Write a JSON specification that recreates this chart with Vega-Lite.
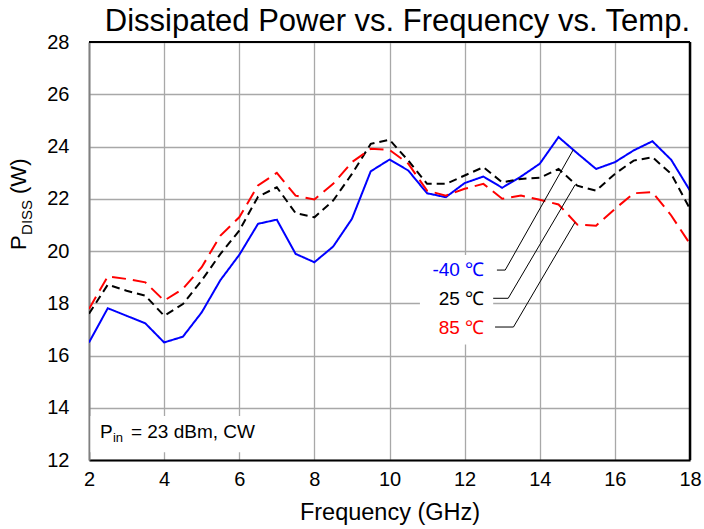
{
  "$schema": "https://vega.github.io/schema/vega-lite/v6.json",
  "width": 601,
  "height": 418,
  "autosize": {"type": "none"},
  "padding": {"left": 89, "top": 42, "right": 14, "bottom": 69},
  "background": "white",
  "config": {
    "view": {"stroke": null},
    "font": "Liberation Sans",
    "text": {"font": "Liberation Sans"},
    "axis": {
      "titleFontSize": 23.5, "titleFontWeight": "normal", "titleColor": "black", "titleFont": "Liberation Sans",
      "labelFontSize": 20, "labelColor": "black", "labelFont": "Liberation Sans", "labelFlush": false,
      "ticks": false, "grid": true, "gridColor": "#a8a8a8", "gridWidth": 1.3, "domainWidth": 2
    },
    "axisX": {"domainColor": "black", "labelPadding": 9, "titlePadding": 11},
    "axisY": {"domainColor": "#808080", "labelPadding": 20}
  },
  "title": {
    "text": "Dissipated Power vs. Frequency vs. Temp.",
    "fontSize": 31,
    "font": "Liberation Sans",
    "fontWeight": "normal",
    "color": "black",
    "anchor": "end",
    "frame": "group",
    "offset": 4,
    "dy": 10
  },
  "datasets": {
    "main": [
      {"f": 2, "p": 16.5, "t": "-40 ℃"}, {"f": 2.5, "p": 17.81, "t": "-40 ℃"}, {"f": 3, "p": 17.52, "t": "-40 ℃"}, {"f": 3.5, "p": 17.23, "t": "-40 ℃"}, {"f": 4, "p": 16.5, "t": "-40 ℃"}, {"f": 4.5, "p": 16.72, "t": "-40 ℃"}, {"f": 5, "p": 17.65, "t": "-40 ℃"}, {"f": 5.5, "p": 18.89, "t": "-40 ℃"}, {"f": 6, "p": 19.85, "t": "-40 ℃"}, {"f": 6.5, "p": 21.04, "t": "-40 ℃"}, {"f": 7, "p": 21.2, "t": "-40 ℃"}, {"f": 7.5, "p": 19.89, "t": "-40 ℃"}, {"f": 8, "p": 19.57, "t": "-40 ℃"}, {"f": 8.5, "p": 20.17, "t": "-40 ℃"}, {"f": 9, "p": 21.23, "t": "-40 ℃"}, {"f": 9.5, "p": 23.05, "t": "-40 ℃"}, {"f": 10, "p": 23.5, "t": "-40 ℃"}, {"f": 10.5, "p": 23.08, "t": "-40 ℃"}, {"f": 11, "p": 22.21, "t": "-40 ℃"}, {"f": 11.5, "p": 22.06, "t": "-40 ℃"}, {"f": 12, "p": 22.6, "t": "-40 ℃"}, {"f": 12.5, "p": 22.85, "t": "-40 ℃"}, {"f": 13, "p": 22.42, "t": "-40 ℃"}, {"f": 13.5, "p": 22.85, "t": "-40 ℃"}, {"f": 14, "p": 23.34, "t": "-40 ℃"}, {"f": 14.5, "p": 24.36, "t": "-40 ℃"}, {"f": 15, "p": 23.74, "t": "-40 ℃"}, {"f": 15.5, "p": 23.14, "t": "-40 ℃"}, {"f": 16, "p": 23.4, "t": "-40 ℃"}, {"f": 16.5, "p": 23.85, "t": "-40 ℃"}, {"f": 17, "p": 24.2, "t": "-40 ℃"}, {"f": 17.5, "p": 23.49, "t": "-40 ℃"}, {"f": 18, "p": 22.31, "t": "-40 ℃"},
      {"f": 2, "p": 17.6, "t": "25 ℃"}, {"f": 2.5, "p": 18.71, "t": "25 ℃"}, {"f": 3, "p": 18.48, "t": "25 ℃"}, {"f": 3.5, "p": 18.29, "t": "25 ℃"}, {"f": 4, "p": 17.52, "t": "25 ℃"}, {"f": 4.5, "p": 17.97, "t": "25 ℃"}, {"f": 5, "p": 18.87, "t": "25 ℃"}, {"f": 5.5, "p": 19.89, "t": "25 ℃"}, {"f": 6, "p": 20.78, "t": "25 ℃"}, {"f": 6.5, "p": 22.08, "t": "25 ℃"}, {"f": 7, "p": 22.44, "t": "25 ℃"}, {"f": 7.5, "p": 21.45, "t": "25 ℃"}, {"f": 8, "p": 21.29, "t": "25 ℃"}, {"f": 8.5, "p": 21.93, "t": "25 ℃"}, {"f": 9, "p": 22.95, "t": "25 ℃"}, {"f": 9.5, "p": 24.1, "t": "25 ℃"}, {"f": 10, "p": 24.26, "t": "25 ℃"}, {"f": 10.5, "p": 23.46, "t": "25 ℃"}, {"f": 11, "p": 22.57, "t": "25 ℃"}, {"f": 11.5, "p": 22.57, "t": "25 ℃"}, {"f": 12, "p": 22.89, "t": "25 ℃"}, {"f": 12.5, "p": 23.21, "t": "25 ℃"}, {"f": 13, "p": 22.63, "t": "25 ℃"}, {"f": 13.5, "p": 22.76, "t": "25 ℃"}, {"f": 14, "p": 22.8, "t": "25 ℃"}, {"f": 14.5, "p": 23.14, "t": "25 ℃"}, {"f": 15, "p": 22.5, "t": "25 ℃"}, {"f": 15.5, "p": 22.31, "t": "25 ℃"}, {"f": 16, "p": 22.95, "t": "25 ℃"}, {"f": 16.5, "p": 23.46, "t": "25 ℃"}, {"f": 17, "p": 23.59, "t": "25 ℃"}, {"f": 17.5, "p": 22.95, "t": "25 ℃"}, {"f": 18, "p": 21.61, "t": "25 ℃"},
      {"f": 2, "p": 17.78, "t": "85 ℃"}, {"f": 2.5, "p": 19.03, "t": "85 ℃"}, {"f": 3, "p": 18.93, "t": "85 ℃"}, {"f": 3.5, "p": 18.8, "t": "85 ℃"}, {"f": 4, "p": 18.1, "t": "85 ℃"}, {"f": 4.5, "p": 18.55, "t": "85 ℃"}, {"f": 5, "p": 19.38, "t": "85 ℃"}, {"f": 5.5, "p": 20.59, "t": "85 ℃"}, {"f": 6, "p": 21.29, "t": "85 ℃"}, {"f": 6.5, "p": 22.51, "t": "85 ℃"}, {"f": 7, "p": 22.99, "t": "85 ℃"}, {"f": 7.5, "p": 22.12, "t": "85 ℃"}, {"f": 8, "p": 21.97, "t": "85 ℃"}, {"f": 8.5, "p": 22.57, "t": "85 ℃"}, {"f": 9, "p": 23.4, "t": "85 ℃"}, {"f": 9.5, "p": 23.91, "t": "85 ℃"}, {"f": 10, "p": 23.87, "t": "85 ℃"}, {"f": 10.5, "p": 23.34, "t": "85 ℃"}, {"f": 11, "p": 22.31, "t": "85 ℃"}, {"f": 11.5, "p": 22.12, "t": "85 ℃"}, {"f": 12, "p": 22.38, "t": "85 ℃"}, {"f": 12.5, "p": 22.57, "t": "85 ℃"}, {"f": 13, "p": 22.0, "t": "85 ℃"}, {"f": 13.5, "p": 22.12, "t": "85 ℃"}, {"f": 14, "p": 21.96, "t": "85 ℃"}, {"f": 14.5, "p": 21.78, "t": "85 ℃"}, {"f": 15, "p": 21.01, "t": "85 ℃"}, {"f": 15.5, "p": 20.97, "t": "85 ℃"}, {"f": 16, "p": 21.61, "t": "85 ℃"}, {"f": 16.5, "p": 22.21, "t": "85 ℃"}, {"f": 17, "p": 22.25, "t": "85 ℃"}, {"f": 17.5, "p": 21.36, "t": "85 ℃"}, {"f": 18, "p": 20.27, "t": "85 ℃"}
    ],
    "leaders": [
      {"g": "-40 ℃", "f": 12.86, "p": 19.27}, {"g": "-40 ℃", "f": 13.08, "p": 19.27}, {"g": "-40 ℃", "f": 14.89, "p": 23.87},
      {"g": "25 ℃", "f": 12.76, "p": 18.19}, {"g": "25 ℃", "f": 13.16, "p": 18.19}, {"g": "25 ℃", "f": 14.94, "p": 22.53},
      {"g": "85 ℃", "f": 12.81, "p": 17.09}, {"g": "85 ℃", "f": 13.3, "p": 17.09}, {"g": "85 ℃", "f": 14.94, "p": 21.1}
    ]
  },
  "layer": [
    {
      "data": {"name": "main"},
      "mark": {"type": "line", "strokeWidth": 2, "clip": true},
      "encoding": {
        "x": {
          "field": "f", "type": "quantitative",
          "scale": {"domain": [2, 18], "nice": false, "zero": false},
          "axis": {"values": [2, 4, 6, 8, 10, 12, 14, 16, 18], "title": "Frequency (GHz)"}
        },
        "y": {
          "field": "p", "type": "quantitative",
          "scale": {"domain": [12, 28], "nice": false, "zero": false},
          "axis": {"values": [12, 14, 16, 18, 20, 22, 24, 26, 28], "title": ""}
        },
        "color": {
          "field": "t", "type": "nominal",
          "scale": {"domain": ["-40 ℃", "25 ℃", "85 ℃"], "range": ["#0000ff", "#000000", "#ff0000"]},
          "legend": null
        },
        "strokeDash": {
          "field": "t", "type": "nominal",
          "scale": {"domain": ["-40 ℃", "25 ℃", "85 ℃"], "range": [[1, 0], [8, 5], [14, 7]]},
          "legend": null
        }
      }
    },
    {
      "data": {"values": [{}]},
      "mark": {"type": "rect", "color": "white", "opacity": 1},
      "encoding": {
        "x": {"datum": 10.81, "type": "quantitative"},
        "x2": {"datum": 12.76},
        "y": {"datum": 19.85, "type": "quantitative"},
        "y2": {"datum": 16.42}
      }
    },
    {
      "data": {"values": [{}]},
      "mark": {"type": "rect", "color": "white", "opacity": 1},
      "encoding": {
        "x": {"datum": 2.04, "type": "quantitative"},
        "x2": {"datum": 6.6},
        "y": {"datum": 13.68, "type": "quantitative"},
        "y2": {"datum": 12.3}
      }
    },
    {
      "data": {"name": "leaders"},
      "mark": {"type": "line", "color": "black", "strokeWidth": 1},
      "encoding": {
        "x": {"field": "f", "type": "quantitative"},
        "y": {"field": "p", "type": "quantitative"},
        "detail": {"field": "g"}
      }
    },
    {
      "data": {"values": [{}]},
      "mark": {"type": "rule", "color": "black", "strokeWidth": 2},
      "encoding": {
        "x": {"datum": 2, "type": "quantitative"},
        "x2": {"datum": 18},
        "y": {"datum": 28, "type": "quantitative"}
      }
    },
    {
      "data": {"values": [{}]},
      "mark": {"type": "rule", "color": "black", "strokeWidth": 2.5},
      "encoding": {
        "x": {"datum": 18, "type": "quantitative"},
        "y": {"datum": 12, "type": "quantitative"},
        "y2": {"datum": 28}
      }
    },
    {
      "data": {"values": [{}]},
      "mark": {"type": "text", "text": "-40 ℃", "color": "#0000ff", "fontSize": 19, "align": "right", "baseline": "middle"},
      "encoding": {
        "x": {"datum": 12.52, "type": "quantitative"},
        "y": {"datum": 19.27, "type": "quantitative"}
      }
    },
    {
      "data": {"values": [{}]},
      "mark": {"type": "text", "text": "25 ℃", "color": "#000000", "fontSize": 19, "align": "right", "baseline": "middle"},
      "encoding": {
        "x": {"datum": 12.52, "type": "quantitative"},
        "y": {"datum": 18.18, "type": "quantitative"}
      }
    },
    {
      "data": {"values": [{}]},
      "mark": {"type": "text", "text": "85 ℃", "color": "#ff0000", "fontSize": 19, "align": "right", "baseline": "middle"},
      "encoding": {
        "x": {"datum": 12.52, "type": "quantitative"},
        "y": {"datum": 17.07, "type": "quantitative"}
      }
    },
    {
      "data": {"values": [{}]},
      "mark": {"type": "text", "text": "P", "color": "black", "fontSize": 19, "align": "left", "baseline": "alphabetic"},
      "encoding": {
        "x": {"datum": 2.29, "type": "quantitative"},
        "y": {"datum": 12.83, "type": "quantitative"}
      }
    },
    {
      "data": {"values": [{}]},
      "mark": {"type": "text", "text": "in", "color": "black", "fontSize": 13, "align": "left", "baseline": "alphabetic", "dx": 13, "dy": 4},
      "encoding": {
        "x": {"datum": 2.29, "type": "quantitative"},
        "y": {"datum": 12.83, "type": "quantitative"}
      }
    },
    {
      "data": {"values": [{}]},
      "mark": {"type": "text", "text": "= 23 dBm, CW", "color": "black", "fontSize": 19, "align": "left", "baseline": "alphabetic", "dx": 31},
      "encoding": {
        "x": {"datum": 2.29, "type": "quantitative"},
        "y": {"datum": 12.83, "type": "quantitative"}
      }
    },
    {
      "data": {"values": [{}]},
      "mark": {"type": "text", "text": "P", "color": "black", "fontSize": 22, "align": "left", "baseline": "alphabetic", "angle": 270},
      "encoding": {
        "x": {"datum": 0.323, "type": "quantitative"},
        "y": {"datum": 20.04, "type": "quantitative"}
      }
    },
    {
      "data": {"values": [{}]},
      "mark": {"type": "text", "text": "DISS", "color": "black", "fontSize": 15, "align": "left", "baseline": "alphabetic", "angle": 270, "dx": 15, "dy": 6},
      "encoding": {
        "x": {"datum": 0.323, "type": "quantitative"},
        "y": {"datum": 20.04, "type": "quantitative"}
      }
    },
    {
      "data": {"values": [{}]},
      "mark": {"type": "text", "text": "(W)", "color": "black", "fontSize": 22, "align": "left", "baseline": "alphabetic", "angle": 270, "dx": 56},
      "encoding": {
        "x": {"datum": 0.323, "type": "quantitative"},
        "y": {"datum": 20.04, "type": "quantitative"}
      }
    }
  ]
}
